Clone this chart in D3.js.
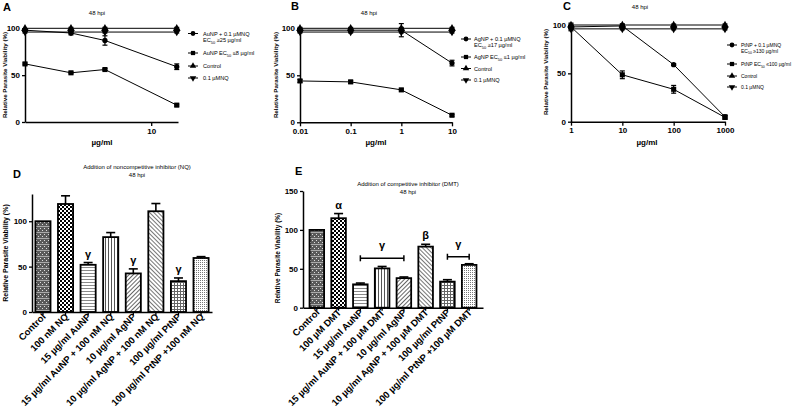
<!DOCTYPE html>
<html><head><meta charset="utf-8">
<script src="https://cdn.jsdelivr.net/npm/d3@7"></script>
<style>body{margin:0;background:#fff} svg{display:block} text{font-family:Arial,"Liberation Sans",sans-serif}</style>
</head><body><svg id="c" width="796" height="410"></svg>
<script>
// ---------- DATA ----------
const concA = [1.35, 2.8, 4.8, 15];
const concB = [0.01, 0.1, 1, 10];
const concC = [1, 10, 100, 1000];
const xTicksA = [10], xTickLabelsA = ["10"];
const xTicksB = [0.01, 0.1, 1, 10], xTickLabelsB = ["0.01", "0.1", "1", "10"];
const xTicksC = [1, 10, 100, 1000], xTickLabelsC = ["1", "10", "100", "1000"];
const yTicksLine = [0, 50, 100];

const A_npnq = [98, 95, 87, 59], A_npnqErr = [1, 2, 5, 3];
const A_np = [62, 52.5, 56, 18], A_npErr = [1, 1, 1, 1];
const A_ctrl = [100, 100, 100, 100], A_ctrlErr = [0, 1, 1, 1];
const A_nq = [96, 96, 96, 96], A_nqErr = [1, 1, 1, 1];

const B_npnq = [98, 98, 98, 63], B_npnqErr = [2, 2, 7, 3];
const B_np = [44, 43, 34.5, 7.5], B_npErr = [1.5, 1.5, 1, 1];
const B_ctrl = [100, 100, 100, 100], B_ctrlErr = [1, 1, 1, 1];
const B_nq = [96, 96, 96, 96], B_nqErr = [1, 1, 1, 1];

const C_npnq = [98, 99, 59, 5], C_npnqErr = [4, 2, 1, 2];
const C_np = [98, 48.5, 33.5, 4.5], C_npErr = [1, 4, 4, 2];
const C_ctrl = [100, 100, 100, 100], C_ctrlErr = [1, 1, 1, 1];
const C_nq = [96, 96, 96, 96], C_nqErr = [1, 1, 1, 1];

const legendA = ["AuNP + 0.1 \u00b5MNQ", "EC|50| \u226525 \u00b5g/ml", "AuNP EC|50| \u22648 \u00b5g/ml", "Control", "0.1 \u00b5MNQ"];
const legendB = ["AgNP + 0.1 \u00b5MNQ", "EC|50| \u226517 \u00b5g/ml", "AgNP EC|50| \u22641 \u00b5g/ml", "Control", "0.1 \u00b5MNQ"];
const legendC = ["PtNP + 0.1 \u00b5MNQ", "EC|50| \u2265130 \u00b5g/ml", "PtNP EC|50| \u2264100 \u00b5g/ml", "Control", "0.1 \u00b5MNQ"];

const catsD = ["Control", "100 nM NQ", "15 \u00b5g/ml AuNP", "15 \u00b5g/ml AuNP  + 100 nM NQ", "10 \u00b5g/ml AgNP", "10 \u00b5g/ml AgNP + 100 nM NQ", "100 \u00b5g/ml PtNP", "100 \u00b5g/ml PtNP +100 nM NQ"];
const valsD = [100, 119, 52, 82.5, 42.5, 111, 34, 59.5];
const errsD = [0, 9, 2.5, 5, 5, 8.5, 3.5, 1.5];
const marksD = ["", "", "\u03b3", "", "\u03b3", "", "\u03b3", ""];
const yTicksD = [0, 50, 100];

const catsE = ["Control", "100 \u00b5M DMT", "15  \u00b5g/ml AuNP", "15 \u00b5g/ml AuNP  + 100 \u00b5M DMT", "10 \u00b5g/ml AgNP", "10 \u00b5g/ml AgNP + 100 \u00b5M DMT", "100 \u00b5g/ml PtNP", "100 \u00b5g/ml PtNP +100 \u00b5M DMT"];
const valsE = [100, 115, 30, 50.5, 38, 78.5, 33.5, 55];
const errsE = [0, 6, 1.7, 2.5, 1.5, 3, 2.5, 1.5];
const marksE = ["", "\u03b1", "", "", "", "\u03b2", "", ""];
const bracketsE = [{from: 2, to: 4, value: 63.5, label: "\u03b3"}, {from: 6, to: 7, value: 65.5, label: "\u03b3"}];
const yTicksE = [0, 50, 100, 150];

// ---------- DRAW ----------
const svg = d3.select("#c");
svg.append("rect").attr("width", 796).attr("height", 410).attr("fill", "#fff");
const defs = svg.append("defs");
function pat(id, w, h, build, tr) {
  const p = defs.append("pattern").attr("id", id).attr("patternUnits", "userSpaceOnUse").attr("width", w).attr("height", h);
  if (tr) p.attr("patternTransform", tr);
  build(p);
}
pat("p0", 4, 6, p => {
  p.append("rect").attr("width", 4).attr("height", 6).attr("fill", "#5a5a5a");
  p.append("rect").attr("x", 0).attr("y", 0).attr("width", 1).attr("height", 1).attr("fill", "#ddd");
  p.append("rect").attr("x", 2).attr("y", 2).attr("width", 1).attr("height", 1).attr("fill", "#ddd");
  p.append("rect").attr("x", 0).attr("y", 4).attr("width", 4).attr("height", 1).attr("fill", "#aaa");
});
pat("p1", 4, 4, p => {
  p.append("rect").attr("width", 4).attr("height", 4).attr("fill", "#fff");
  p.append("rect").attr("width", 2).attr("height", 2).attr("fill", "#000");
  p.append("rect").attr("x", 2).attr("y", 2).attr("width", 2).attr("height", 2).attr("fill", "#000");
});
pat("p2", 3, 3, p => {
  p.append("rect").attr("width", 3).attr("height", 3).attr("fill", "#fff");
  p.append("rect").attr("width", 3).attr("height", 1).attr("fill", "#8a8a8a");
});
pat("p3", 3, 3, p => {
  p.append("rect").attr("width", 3).attr("height", 3).attr("fill", "#fff");
  p.append("rect").attr("width", 1).attr("height", 3).attr("fill", "#555");
});
pat("p4", 3, 3, p => {
  p.append("rect").attr("width", 3).attr("height", 3).attr("fill", "#fff");
  p.append("rect").attr("width", 1).attr("height", 3).attr("fill", "#666");
}, "rotate(45)");
pat("p5", 3, 3, p => {
  p.append("rect").attr("width", 3).attr("height", 3).attr("fill", "#fff");
  p.append("rect").attr("width", 1).attr("height", 3).attr("fill", "#777");
}, "rotate(-45)");
pat("p6", 3, 3, p => {
  p.append("rect").attr("width", 3).attr("height", 3).attr("fill", "#fff");
  p.append("rect").attr("width", 3).attr("height", 1).attr("fill", "#666");
  p.append("rect").attr("width", 1).attr("height", 3).attr("fill", "#666");
});
pat("p7", 2, 2, p => {
  p.append("rect").attr("width", 2).attr("height", 2).attr("fill", "#fff");
  p.append("rect").attr("width", 1).attr("height", 1).attr("fill", "#777");
});

function styleAxis(ax, fs) {
  ax.select(".domain").attr("stroke", "#000").attr("stroke-width", 1.5);
  ax.selectAll(".tick line").attr("stroke", "#000").attr("stroke-width", 1.3);
  ax.selectAll(".tick text").attr("font-size", fs).attr("font-weight", "bold").attr("fill", "#000").attr("font-family", "Arial, Liberation Sans, sans-serif");
}
function addText(x, y, t, o) {
  o = o || {};
  const el = svg.append("text").attr("x", x).attr("y", y).attr("font-size", o.fs || 6)
    .attr("font-weight", o.fw || "normal").attr("text-anchor", o.anchor || "middle").attr("fill", "#000");
  if (o.rot) el.attr("transform", `rotate(${o.rot},${x},${y})`);
  const parts = t.split("|");
  parts.forEach((s, i) => {
    if (i % 2 === 1) el.append("tspan").attr("font-size", (o.fs || 6) * 0.7).attr("dy", 1.5).text(s);
    else el.append("tspan").attr("dy", i > 0 ? -1.5 : 0).text(s);
  });
  return el;
}
const symTypes = [d3.symbolCircle, d3.symbolSquare, d3.symbolTriangle, null];
function symbolPath(k, size) {
  if (k === 3) return d3.symbol(d3.symbolTriangle, size)().replace(/(-?\d*\.?\d+),(-?\d*\.?\d+)/g, (m, a, b) => `${a},${-b}`);
  return d3.symbol(symTypes[k], size)();
}
const symSize = [22, 26, 24, 24];

function linePanel(cfg) {
  const x = d3.scaleLog().domain(cfg.xDomain).range(cfg.xRange);
  const y = d3.scaleLinear().domain([0, 100]).range(cfg.yRange);
  const g = svg.append("g");
  const xa = g.append("g").attr("transform", `translate(0,${cfg.yRange[0]})`)
    .call(d3.axisBottom(x).tickValues(cfg.xTicks).tickFormat((d, i) => cfg.xTickLabels[i]).tickSize(4).tickSizeOuter(0).tickPadding(2));
  styleAxis(xa, 8);
  const ya = g.append("g").attr("transform", `translate(${cfg.xRange[0]},0)`)
    .call(d3.axisLeft(y).tickValues(yTicksLine).tickSize(3).tickSizeOuter(0).tickPadding(2));
  styleAxis(ya, 8);
  const line = d3.line().x((d, i) => x(cfg.conc[i])).y(d => y(d));
  cfg.series.forEach((s, k) => {
    g.append("path").attr("d", line(s.v)).attr("fill", "none").attr("stroke", "#000").attr("stroke-width", 1);
  });
  cfg.series.forEach((s, k) => {
    s.v.forEach((v, i) => {
      const e = s.e[i], cx = x(cfg.conc[i]);
      if (e > 0) {
        g.append("line").attr("x1", cx).attr("x2", cx).attr("y1", y(v - e)).attr("y2", y(v + e)).attr("stroke", "#000").attr("stroke-width", 1.2);
        [v - e, v + e].forEach(w => g.append("line").attr("x1", cx - 2.5).attr("x2", cx + 2.5).attr("y1", y(w)).attr("y2", y(w)).attr("stroke", "#000").attr("stroke-width", 1.2));
      }
      g.append("path").attr("d", symbolPath(k, symSize[k])).attr("transform", `translate(${cx},${y(v)})`).attr("fill", "#000");
    });
  });
  const L = cfg.legend, rows = L.rows;
  const rowIdx = [0, 2, 3, 4];
  rowIdx.forEach((r, k) => {
    g.append("line").attr("x1", L.mx - 5).attr("x2", L.mx + 5).attr("y1", rows[r]).attr("y2", rows[r]).attr("stroke", "#000").attr("stroke-width", 1);
    g.append("path").attr("d", symbolPath(k, 18)).attr("transform", `translate(${L.mx},${rows[r]})`).attr("fill", "#000");
  });
  cfg.legendLabels.forEach((t, r) => addText(L.tx, rows[r] + 2, t, {anchor: "start", fs: L.fs}));
  addText(cfg.title[0], cfg.title[1], "48 hpi", {fs: 6});
  addText(cfg.letter[0], cfg.letter[1], cfg.letter[2], {fs: 11, fw: "bold", anchor: "start"});
  addText(cfg.xlabel[0], cfg.xlabel[1], "\u00b5g/ml", {fs: 8, fw: "bold"});
  addText(cfg.ylabel[0], cfg.ylabel[1], "Relative Parasite Viability (%)", {fs: 6.2, fw: "bold", rot: -90});
}

linePanel({conc: concA, xDomain: [1.35, 15.3], xRange: [25, 178], yRange: [122, 28.3], xTicks: xTicksA, xTickLabels: xTickLabelsA,
  series: [{v: A_npnq, e: A_npnqErr}, {v: A_np, e: A_npErr}, {v: A_ctrl, e: A_ctrlErr}, {v: A_nq, e: A_nqErr}],
  legend: {mx: 193, tx: 203, fs: 5.6, rows: [33.5, 40, 53, 66, 78]}, legendLabels: legendA,
  title: [97, 15], letter: [3, 11, "A"], xlabel: [102, 145], ylabel: [7, 75]});
linePanel({conc: concB, xDomain: [0.01, 10], xRange: [300, 452], yRange: [122.3, 28.3], xTicks: xTicksB, xTickLabels: xTickLabelsB,
  series: [{v: B_npnq, e: B_npnqErr}, {v: B_np, e: B_npErr}, {v: B_ctrl, e: B_ctrlErr}, {v: B_nq, e: B_nqErr}],
  legend: {mx: 466, tx: 474, fs: 5.6, rows: [39, 45, 57, 68.5, 80]}, legendLabels: legendB,
  title: [369, 15], letter: [291, 10, "B"], xlabel: [376, 145], ylabel: [278, 75]});
linePanel({conc: concC, xDomain: [1, 1000], xRange: [571, 725], yRange: [121.7, 25], xTicks: xTicksC, xTickLabels: xTickLabelsC,
  series: [{v: C_npnq, e: C_npnqErr}, {v: C_np, e: C_npErr}, {v: C_ctrl, e: C_ctrlErr}, {v: C_nq, e: C_nqErr}],
  legend: {mx: 732, tx: 741, fs: 5, rows: [45, 50.5, 64, 76, 87]}, legendLabels: legendC,
  title: [640, 9], letter: [563, 10, "C"], xlabel: [647, 145], ylabel: [548, 72]});

function barPanel(cfg) {
  const x = d3.scaleBand().domain(cfg.cats).range(cfg.xRange).paddingInner(0.33).paddingOuter(cfg.pOuter);
  const y = d3.scaleLinear().domain(cfg.yDomain).range(cfg.yRange);
  const g = svg.append("g");
  cfg.vals.forEach((v, i) => {
    const c = cfg.cats[i], cx = x(c) + x.bandwidth() / 2;
    if (cfg.errs[i] > 0) {
      g.append("line").attr("x1", cx).attr("x2", cx).attr("y1", y(v)).attr("y2", y(v + cfg.errs[i])).attr("stroke", "#000").attr("stroke-width", 1.6);
      g.append("line").attr("x1", cx - 4.5).attr("x2", cx + 4.5).attr("y1", y(v + cfg.errs[i])).attr("y2", y(v + cfg.errs[i])).attr("stroke", "#000").attr("stroke-width", 1.6);
    }
    g.append("rect").attr("x", x(c)).attr("y", y(v)).attr("width", x.bandwidth()).attr("height", y(0) - y(v))
      .attr("fill", `url(#p${i})`).attr("stroke", "#000").attr("stroke-width", 1.8);
    if (cfg.marks[i]) addText(cx, y(v + cfg.errs[i]) - 5, cfg.marks[i], {fs: 11, fw: "bold"});
  });
  (cfg.brackets || []).forEach(b => {
    const x1 = x(cfg.cats[b.from]) + x.bandwidth() / 2, x2 = x(cfg.cats[b.to]) + x.bandwidth() / 2, yy = y(b.value);
    g.append("line").attr("x1", x1).attr("x2", x2).attr("y1", yy).attr("y2", yy).attr("stroke", "#000").attr("stroke-width", 1.5);
    [x1, x2].forEach(xx => g.append("line").attr("x1", xx).attr("x2", xx).attr("y1", yy - 3).attr("y2", yy + 3).attr("stroke", "#000").attr("stroke-width", 1.5));
    addText((x1 + x2) / 2, yy - 9, b.label, {fs: 11, fw: "bold"});
  });
  const xa = g.append("g").attr("transform", `translate(0,${cfg.yRange[0]})`)
    .call(d3.axisBottom(x).tickSize(3).tickSizeOuter(0).tickFormat(""));
  styleAxis(xa, 10);
  cfg.cats.forEach(c => {
    const cx = x(c) + x.bandwidth() / 2 + 1, cy = cfg.yRange[0] + 3;
    svg.append("text").attr("transform", `translate(${cx},${cy}) rotate(-45)`).attr("text-anchor", "end").attr("dy", "0.35em")
      .attr("font-size", 9.5).attr("font-weight", "bold").attr("fill", "#000").text(c);
  });
  const ya = g.append("g").attr("transform", `translate(${cfg.xRange[0]},0)`)
    .call(d3.axisLeft(y).tickValues(cfg.yTicks).tickSize(3).tickSizeOuter(0).tickPadding(2));
  styleAxis(ya, 8);
  addText(cfg.title[0], cfg.title[1], cfg.titleText, {fs: 6});
  addText(cfg.title[0], cfg.title[1] + 8, "48 hpi", {fs: 6});
  addText(cfg.letter[0], cfg.letter[1], cfg.letter[2], {fs: 11, fw: "bold", anchor: "start"});
  addText(cfg.ylabel[0], cfg.ylabel[1], "Relative Parasite Viability (%)", {fs: cfg.ylabelFs, fw: "bold", rot: -90});
}
barPanel({cats: catsD, vals: valsD, errs: errsD, marks: marksD, xRange: [32, 212], pOuter: 0.15, yDomain: [0, 130], yRange: [312, 194], yTicks: yTicksD,
  title: [137, 169], titleText: "Addition of noncompetitive inhibitor (NQ)", letter: [13, 178, "D"], ylabel: [8, 253], ylabelFs: 7});
barPanel({cats: catsE, vals: valsE, errs: errsE, marks: marksE, brackets: bracketsE, xRange: [303, 483], pOuter: 0.3, yDomain: [0, 150], yRange: [307.7, 191], yTicks: yTicksE,
  title: [408, 186], titleText: "Addition of competitive inhibitor (DMT)", letter: [295, 175, "E"], ylabel: [280, 258], ylabelFs: 6.5});
</script></body></html>
